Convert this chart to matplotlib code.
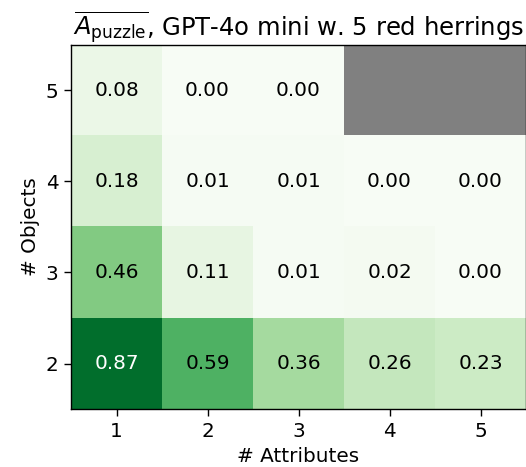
import numpy as np
import matplotlib
matplotlib.use("Agg")
import matplotlib.pyplot as plt

objects = [5, 4, 3, 2]
attributes = [1, 2, 3, 4, 5]
values = [
    [0.08, 0.00, 0.00, np.nan, np.nan],
    [0.18, 0.01, 0.01, 0.00, 0.00],
    [0.46, 0.11, 0.01, 0.02, 0.00],
    [0.87, 0.59, 0.36, 0.26, 0.23],
]

fs = 14.4
data = np.ma.masked_invalid(np.array(values, dtype=float))
cmap = plt.get_cmap("Greens").copy()
cmap.set_bad("gray")

fig = plt.figure(figsize=(5.26, 4.67), dpi=100)
ax = fig.add_axes([0.135, 0.124, 0.865, 0.78])
ax.imshow(data, cmap=cmap, vmin=0, vmax=1, aspect="auto")
for i in range(len(objects)):
    for j in range(len(attributes)):
        v = values[i][j]
        if np.isnan(v):
            continue
        ax.text(j, i, f"{v:.2f}", ha="center", va="center", fontsize=fs,
                color="white" if v > 0.7 else "black")
ax.set_xticks(range(len(attributes)))
ax.set_xticklabels([str(a) for a in attributes], fontsize=fs)
ax.set_yticks(range(len(objects)))
ax.set_yticklabels([str(o) for o in objects], fontsize=fs)
ax.tick_params(length=4.8, width=1.0, pad=4.2)
for s in ax.spines.values():
    s.set_linewidth(1.0)
ax.set_xlabel("# Attributes", fontsize=fs, labelpad=4.5)
ax.set_ylabel("# Objects", fontsize=fs)
ax.set_title(r"$\overline{A_{\mathrm{puzzle}}}$, GPT-4o mini w. 5 red herrings", fontsize=17.5)
fig.savefig("out.png", dpi=100)
